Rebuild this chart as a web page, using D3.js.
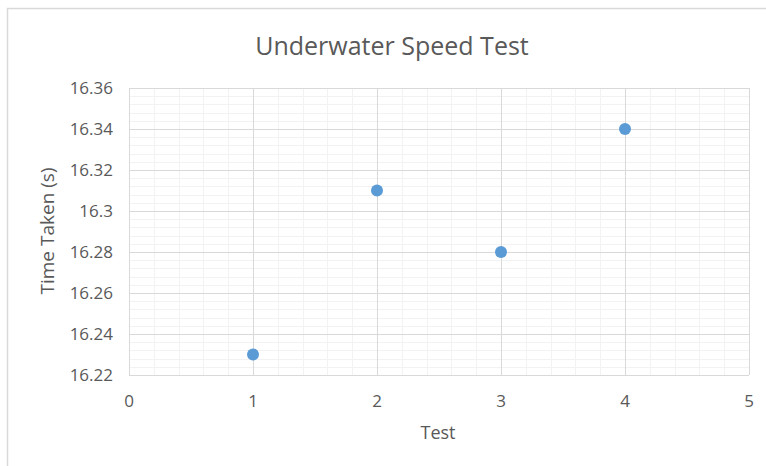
<!DOCTYPE html>
<html lang="en">
<head>
    <meta charset="UTF-8">
    <title>Underwater Speed Test</title>
    <script src="https://cdn.jsdelivr.net/npm/d3@7"></script>
    <style>
        body { margin: 0; background: #fff; }
        text { font-family: "Open Sans", "Noto Sans", sans-serif; fill: #595959; }
    </style>
</head>
<body>
<script>
    var tests = [1, 2, 3, 4];
    var times = [16.23, 16.31, 16.28, 16.34];
    var xTicks = [0, 1, 2, 3, 4, 5];
    var yTicks = [16.22, 16.24, 16.26, 16.28, 16.3, 16.32, 16.34, 16.36];

    var W = 766, H = 466;
    var plotL = 129, plotR = 749, plotT = 88, plotB = 375;

    var svg = d3.select("body").append("svg").attr("width", W).attr("height", H);

    // chart frame (only left and top edges are in view)
    svg.append("line").attr("x1", 7.5).attr("y1", 8.5).attr("x2", 7.5).attr("y2", H).attr("stroke", "#d9d9d9").attr("stroke-width", 1.5);
    svg.append("line").attr("x1", 7).attr("y1", 8.5).attr("x2", W).attr("y2", 8.5).attr("stroke", "#d9d9d9").attr("stroke-width", 1.5);

    var x = d3.scaleLinear().domain([0, 5]).range([plotL, plotR]);
    var y = d3.scaleLinear().domain([16.22, 16.36]).range([plotB, plotT]);

    // minor grid
    var xMinor = d3.range(0, 25).map(function (i) { return i * 0.2; }).filter(function (v, i) { return i % 5 != 0; });
    var yMinor = d3.range(0, 35).map(function (i) { return 16.22 + i * 0.004; }).filter(function (v, i) { return i % 5 != 0; });
    svg.append("g").selectAll("line").data(xMinor).enter().append("line")
        .attr("x1", function (d) { return Math.round(x(d)) + 0.5; }).attr("x2", function (d) { return Math.round(x(d)) + 0.5; })
        .attr("y1", plotT).attr("y2", plotB).attr("stroke", "#f2f2f2");
    svg.append("g").selectAll("line").data(yMinor).enter().append("line")
        .attr("y1", function (d) { return Math.round(y(d)) + 0.5; }).attr("y2", function (d) { return Math.round(y(d)) + 0.5; })
        .attr("x1", plotL).attr("x2", plotR).attr("stroke", "#f2f2f2");

    // major grid
    svg.append("g").selectAll("line").data(xTicks).enter().append("line")
        .attr("x1", function (d) { return Math.round(x(d)) + 0.5; }).attr("x2", function (d) { return Math.round(x(d)) + 0.5; })
        .attr("y1", plotT).attr("y2", plotB).attr("stroke", "#d9d9d9");
    svg.append("g").selectAll("line").data(yTicks).enter().append("line")
        .attr("y1", function (d) { return Math.round(y(d)) + 0.5; }).attr("y2", function (d) { return Math.round(y(d)) + 0.5; })
        .attr("x1", plotL).attr("x2", plotR).attr("stroke", "#d9d9d9");

    // tick labels
    svg.append("g").selectAll("text").data(yTicks).enter().append("text")
        .attr("x", 113).attr("y", function (d) { return y(d) + 6; })
        .attr("text-anchor", "end").style("font-size", "17px")
        .text(function (d) { return d3.format("")(d); });
    svg.append("g").selectAll("text").data(xTicks).enter().append("text")
        .attr("x", function (d) { return x(d); }).attr("y", 407)
        .attr("text-anchor", "middle").style("font-size", "17px")
        .text(function (d) { return d; });

    // titles
    svg.append("text").attr("x", 392).attr("y", 55).attr("text-anchor", "middle")
        .style("font-size", "25px").text("Underwater Speed Test");
    svg.append("text").attr("x", 438).attr("y", 439).attr("text-anchor", "middle")
        .style("font-size", "18px").text("Test");
    svg.append("text").attr("transform", "translate(54,231) rotate(-90)").attr("text-anchor", "middle")
        .style("font-size", "19px").text("Time Taken (s)");

    // points
    svg.append("g").selectAll("circle").data(tests).enter().append("circle")
        .attr("cx", function (d) { return x(d); })
        .attr("cy", function (d, i) { return y(times[i]); })
        .attr("r", 6).attr("fill", "#5b9bd5");
</script>
</body>
</html>
